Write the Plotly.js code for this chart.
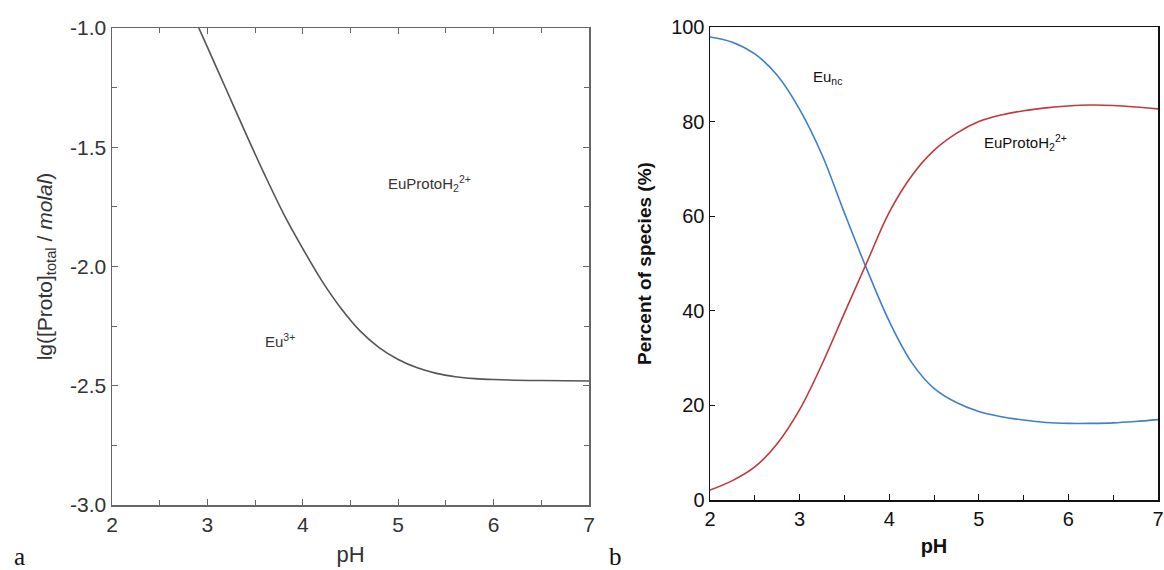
<!DOCTYPE html>
<html>
<head>
<meta charset="utf-8">
<script src="https://cdn.plot.ly/plotly-3.0.1.min.js"></script>
<style>html,body{margin:0;padding:0;background:#fff;}#chart{width:1164px;height:570px;}</style>
</head>
<body>
<div id="chart"></div>
<script>
// Panel a: boundary line Eu3+ / EuProtoH2 2+
const phA = [2.91, 3.0, 3.2, 3.4, 3.6, 3.8, 4.0, 4.2, 4.4, 4.6, 4.8, 5.0, 5.2, 5.4, 5.6, 5.8, 6.0, 6.5, 7.0];
const lgProto = [-1.00, -1.08, -1.26, -1.44, -1.615, -1.78, -1.925, -2.06, -2.175, -2.27, -2.34, -2.39, -2.425, -2.448, -2.462, -2.470, -2.474, -2.478, -2.48];

// Panel b: species distribution
const phB = [2.0, 2.25, 2.5, 2.75, 3.0, 3.25, 3.5, 3.75, 4.0, 4.25, 4.5, 4.75, 5.0, 5.25, 5.5, 5.75, 6.0, 6.25, 6.5, 6.75, 7.0];
const euNc = [97.9, 96.8, 94.3, 89.8, 82.6, 73.0, 60.7, 48.8, 37.8, 29.1, 23.6, 20.6, 18.7, 17.6, 16.9, 16.4, 16.2, 16.2, 16.3, 16.6, 17.0];
const euProto = [2.1, 4.1, 7.0, 11.9, 19.1, 28.7, 39.5, 50.2, 60.8, 68.5, 73.9, 77.5, 80.0, 81.4, 82.3, 82.9, 83.3, 83.5, 83.4, 83.1, 82.7];

const xTicks = [2, 3, 4, 5, 6, 7];
const yTicksA = [-1.0, -1.5, -2.0, -2.5, -3.0];
const yTicksB = [0, 20, 40, 60, 80, 100];

const FAM = 'Arial';
const fontA = {family: FAM, color: '#333', size: 21};
const fontB = {family: FAM, color: '#111', size: 20};

const traces = [
  {x: phA, y: lgProto, xaxis: 'x', yaxis: 'y', mode: 'lines', line: {color: '#555', width: 1.6, shape: 'spline', smoothing: 1}, hoverinfo: 'skip'},
  {x: phB, y: euNc, xaxis: 'x2', yaxis: 'y2', mode: 'lines', line: {color: '#3f7fcc', width: 1.6, shape: 'spline', smoothing: 1}, hoverinfo: 'skip'},
  {x: phB, y: euProto, xaxis: 'x2', yaxis: 'y2', mode: 'lines', line: {color: '#c0393b', width: 1.6, shape: 'spline', smoothing: 1}, hoverinfo: 'skip'}
];

const layout = {
  width: 1164, height: 570,
  margin: {l: 0, r: 0, t: 0, b: 0},
  paper_bgcolor: '#fff', plot_bgcolor: '#fff',
  showlegend: false,
  font: {family: FAM},
  xaxis: {
    domain: [112/1164, 589/1164], anchor: 'y', range: [2, 7],
    tickvals: xTicks, ticktext: xTicks.map(String),
    ticks: 'inside', ticklen: 6, tickcolor: '#666', tickwidth: 1,
    minor: {dtick: 0.5, ticks: 'inside', ticklen: 5, tickcolor: '#666', showgrid: false},
    showline: true, linecolor: '#666', linewidth: 1.5, mirror: 'ticks',
    showgrid: false, zeroline: false, tickfont: fontA,
    title: {text: 'pH', font: {family: FAM, size: 22, color: '#333'}, standoff: 12}
  },
  yaxis: {
    domain: [1-505/570, 1-28/570], anchor: 'x', range: [-3, -1],
    tickvals: yTicksA, ticktext: yTicksA.map(v => v.toFixed(1)),
    ticks: 'inside', ticklen: 6, tickcolor: '#666', tickwidth: 1,
    minor: {dtick: 0.25, ticks: 'inside', ticklen: 5, tickcolor: '#666', showgrid: false},
    showline: true, linecolor: '#666', linewidth: 1.5, mirror: 'ticks',
    showgrid: false, zeroline: false, tickfont: fontA,
    title: {text: 'lg([Proto]<sub>total</sub> / <i>molal</i>)', font: {family: FAM, size: 21, color: '#333'}, standoff: 12}
  },
  xaxis2: {
    domain: [710/1164, 1158/1164], anchor: 'y2', range: [2, 7],
    tickvals: xTicks, ticktext: xTicks.map(String),
    ticks: 'inside', ticklen: 6, tickcolor: '#111', tickwidth: 1,
    minor: {dtick: 0.5, ticks: 'inside', ticklen: 5, tickcolor: '#111', showgrid: false},
    showline: true, linecolor: '#111', linewidth: 1.5, mirror: true,
    showgrid: false, zeroline: false, tickfont: fontB,
    title: {text: '<b>pH</b>', font: {family: FAM, size: 20, color: '#111'}, standoff: 10}
  },
  yaxis2: {
    domain: [1-500/570, 1-27/570], anchor: 'x2', range: [0, 100],
    tickvals: yTicksB, ticktext: yTicksB.map(String),
    ticks: 'inside', ticklen: 5, tickcolor: '#111', tickwidth: 1,
    showline: true, linecolor: '#111', linewidth: 1.5, mirror: true,
    showgrid: false, zeroline: false, tickfont: fontB,
    title: {text: '<b>Percent of species (%)</b>', font: {family: FAM, size: 19, color: '#111'}, standoff: 14}
  },
  annotations: [
    {xref: 'x', yref: 'y', x: 5.33, y: -1.65, text: 'EuProtoH<sub>2</sub><sup>2+</sup>', showarrow: false, font: {family: FAM, size: 15, color: '#333'}},
    {xref: 'x', yref: 'y', x: 3.76, y: -2.31, text: 'Eu<sup>3+</sup>', showarrow: false, font: {family: FAM, size: 15, color: '#333'}},
    {xref: 'x2', yref: 'y2', x: 3.31, y: 89.4, text: 'Eu<sub>nc</sub>', showarrow: false, font: {family: FAM, size: 15, color: '#111'}},
    {xref: 'x2', yref: 'y2', x: 5.52, y: 75.5, text: 'EuProtoH<sub>2</sub><sup>2+</sup>', showarrow: false, font: {family: FAM, size: 15, color: '#111'}},
    {xref: 'paper', yref: 'paper', x: 12/1164, y: 1-556/570, xanchor: 'left', yanchor: 'middle', text: 'a', showarrow: false, font: {family: 'Liberation Serif', size: 25, color: '#111'}},
    {xref: 'paper', yref: 'paper', x: 607/1164, y: 1-556/570, xanchor: 'left', yanchor: 'middle', text: 'b', showarrow: false, font: {family: 'Liberation Serif', size: 25, color: '#111'}}
  ]
};

Plotly.newPlot('chart', traces, layout, {staticPlot: true, displayModeBar: false});
</script>
</body>
</html>
